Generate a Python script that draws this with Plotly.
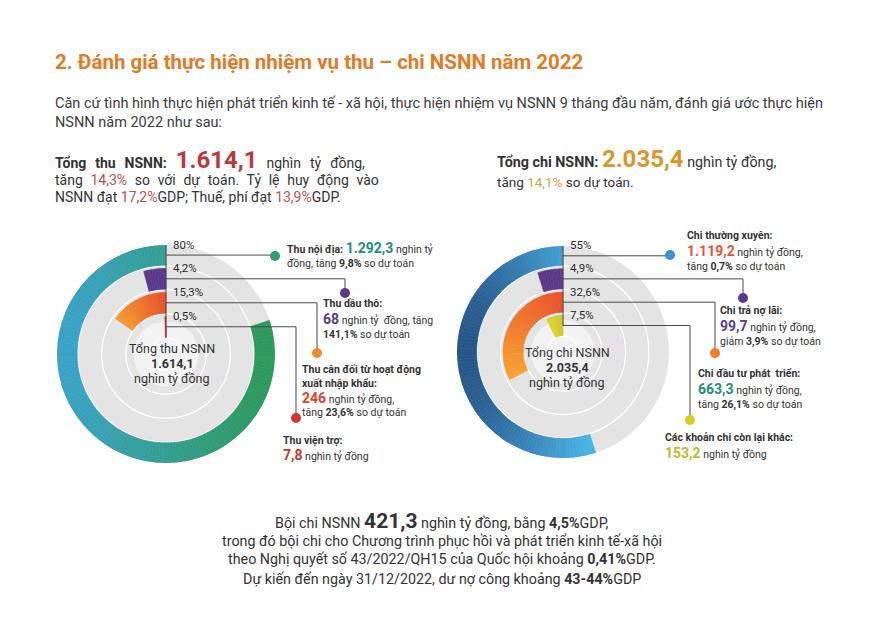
import math
import plotly.graph_objects as go

W, H = 883, 625
FONT = "Roboto, 'Open Sans', sans-serif"

# ---------------- data ----------------
rev_pct = [80, 4.2, 15.3, 0.5]
rev_pct_text = ["80%", "4,2%", "15,3%", "0,5%"]
rev_amount = ["1.292,3", "68", "246", "7,8"]
rev_total = "1.614,1"

exp_pct = [55, 4.9, 32.6, 7.5]
exp_pct_text = ["55%", "4,9%", "32,6%", "7,5%"]
exp_amount = ["1.119,2", "99,7", "663,3", "153,2"]
exp_total = "2.035,4"

# ---------------- style helpers ----------------
TRACKS = [(0.815, 1.0), (0.595, 0.785), (0.375, 0.565), (0.155, 0.345)]


def hex2rgb(h):
    h = h.lstrip("#")
    return tuple(int(h[i:i + 2], 16) for i in (0, 2, 4))


def lerp(c1, c2, t):
    t = max(0.0, min(1.0, t))
    a, b = hex2rgb(c1), hex2rgb(c2)
    return "rgb(%d,%d,%d)" % tuple(round(a[i] + (b[i] - a[i]) * t) for i in range(3))


def grad_x(c_left, c_right, lo=-1.0, hi=1.0):
    def f(theta, p):
        x = -math.sin(math.radians(theta))
        return lerp(c_left, c_right, (x - lo) / (hi - lo))
    return f


def grad_p(c0, c1):
    def f(theta, p):
        return lerp(c0, c1, p)
    return f


def const(c):
    return lambda theta, p: c


def ring_trace(pct, track, colfn, subplot):
    total = pct * 3.6
    n = max(1, int(math.ceil(total / 2.0)))
    step = total / n
    th, wd, rr, bs, cols = [], [], [], [], []
    for i in range(n):
        mid = step * (i + 0.5)
        th.append(mid)
        wd.append(step)
        rr.append(track[1] - track[0])
        bs.append(track[0])
        cols.append(colfn(mid, (i + 0.5) / n))
    return go.Barpolar(theta=th, width=wd, r=rr, base=bs,
                       marker=dict(color=cols, line=dict(color=cols, width=0.6)),
                       subplot=subplot, hoverinfo="skip", showlegend=False)


def halo_trace(subplot):
    return go.Barpolar(theta=[180], width=[360], r=[0.3], base=[0],
                       marker=dict(color="rgba(255,255,255,0.55)", line=dict(width=0)),
                       subplot=subplot, hoverinfo="skip", showlegend=False)


def polar_cfg(cx, cy, R):
    return dict(
        domain=dict(x=[(cx - R) / W, (cx + R) / W], y=[1 - (cy + R) / H, 1 - (cy - R) / H]),
        bgcolor="#e4e4e4",
        angularaxis=dict(direction="counterclockwise", rotation=90, showgrid=False,
                         showline=False, showticklabels=False, ticks=""),
        radialaxis=dict(range=[0, 1], showline=False, showticklabels=False, ticks="",
                        tickvals=[0.15, 0.37, 0.59, 0.81], gridcolor="white", gridwidth=1.2),
    )


LCX, LCY, LR = 166, 354, 109
RCX, RCY, RR = 563, 352, 106

rev_colors = [grad_x("#3aa3c6", "#2e9a5c"), const("#5a3a8c"),
              grad_p("#e6502a", "#f49a2f"), const("#c8372d")]
exp_colors = [grad_x("#27578a", "#4ab3e6", -1.0, 0.25), const("#5a3a8c"),
              grad_p("#e8522a", "#f7a331"), grad_p("#cfc62a", "#dcd634")]

fig = go.Figure()
fig.add_trace(halo_trace("polar"))
for v, tr, cf in zip(rev_pct, TRACKS, rev_colors):
    fig.add_trace(ring_trace(v, tr, cf, "polar"))
fig.add_trace(halo_trace("polar2"))
for v, tr, cf in zip(exp_pct, TRACKS, exp_colors):
    fig.add_trace(ring_trace(v, tr, cf, "polar2"))

shapes = []
annotations = []


def X(x):
    return x / W


def Y(y):
    return 1 - y / H


def line(x0, y0, x1, y1, color="#4a4a4a", width=1):
    shapes.append(dict(type="line", xref="paper", yref="paper", x0=X(x0), y0=Y(y0),
                       x1=X(x1), y1=Y(y1), line=dict(color=color, width=width), layer="above"))


def dot(x, y, color, r=5):
    shapes.append(dict(type="circle", xref="paper", yref="paper", x0=X(x - r), y0=Y(y - r),
                       x1=X(x + r), y1=Y(y + r), fillcolor=color, line=dict(width=0), layer="above"))


def text(x, y, s, size=11, color="#333333", xanchor="left", yanchor="middle", family=FONT):
    annotations.append(dict(x=X(x), y=Y(y), xref="paper", yref="paper", text=s, showarrow=False,
                            xanchor=xanchor, yanchor=yanchor, align=xanchor if xanchor != "center" else "center",
                            font=dict(size=size, color=color, family=family)))


def lines(x, y0, dy, items, size=10.5):
    for i, s in enumerate(items):
        text(x, y0 + i * dy, s, size=size)


def big(s, color, size=14):
    return "<b><span style='color:%s;font-size:%dpx'>%s</span></b>" % (color, size, s)


def ws(s, px):
    return "<span style='word-spacing:%.1fpx'>%s</span>" % (px, s)


def connectors(cx, cy, R, pct_text, dots, dot_colors):
    mids = [(a + b) / 2 for a, b in TRACKS]
    ly = [cy - m * R for m in mids]
    line(cx, cy - R, cx, ly[-1])
    for yy, t, (dx, dy_), c in zip(ly, pct_text, dots, dot_colors):
        line(cx, yy, dx, yy)
        if abs(dy_ - yy) > 1:
            line(dx, yy, dx, dy_)
        dot(dx, dy_, c)
        text(cx + 5, yy - 1.5, t, size=11.5, color="#2a2a2a", yanchor="bottom")
    return ly


# left chart connectors
connectors(LCX, LCY, LR, rev_pct_text,
           [(275, 256), (345, 293), (317, 353), (296, 418)],
           ["#2e9e72", "#5a3a8c", "#f08a2c", "#d0392b"])
line(LCX, LCY - 0.25 * LR, LCX, LCY - 0.15 * LR, color="#b03030", width=1.5)
# right chart connectors
connectors(RCX, RCY, RR, exp_pct_text,
           [(670, 255), (743, 298), (715, 353), (690, 420)],
           ["#3d8fd0", "#5a3a8c", "#ef7d2c", "#d6cf2a"])

# centre texts
text(172, 348, "Tổng thu NSNN", size=12.5, color="#333", xanchor="center")
text(172, 363, "<b>%s</b>" % rev_total, size=12.5, color="#333", xanchor="center")
text(172, 378, "nghìn tỷ đồng", size=12.5, color="#333", xanchor="center")
text(567, 352, "Tổng chi NSNN", size=12.5, color="#333", xanchor="center")
text(567, 367, "<b>%s</b>" % exp_total, size=12.5, color="#333", xanchor="center")
text(567, 382, "nghìn tỷ đồng", size=12.5, color="#333", xanchor="center")

# left labels
lines(285, 248, 15, ["<b>Thu nội địa:</b> " + big(rev_amount[0], "#1f8b7d") + " nghìn tỷ",
                     "đồng, tăng <b>9,8%</b> so dự toán"])
lines(321, 304, 15, ["<b>Thu dầu thô:</b>",
                     big(rev_amount[1], "#5a3a8c") + " nghìn tỷ  đồng, tăng",
                     "<b>141,1%</b> so dự toán"])
lines(300, 369, 14.5, ["<b>Thu cân đối từ hoạt động</b>", "<b>xuất nhập khẩu:</b>",
                       big(rev_amount[2], "#d9452b") + " nghìn tỷ đồng,",
                       "tăng <b>23,6%</b> so dự toán"])
lines(281, 440, 15, ["<b>Thu viện trợ:</b>", big(rev_amount[3], "#c0392b") + " nghìn tỷ đồng"])

# right labels
lines(685, 235, 15.5, ["<b>Chi thường xuyên:</b>", big(exp_amount[0], "#e5533a") + " nghìn tỷ đồng,",
                       "tăng <b>0,7%</b> so dự toán"])
lines(718, 310, 15.5, ["<b>Chi trả nợ lãi:</b>", big(exp_amount[1], "#5a3a8c") + " nghìn tỷ đồng,",
                       "giảm <b>3,9%</b> so dự toán"])
lines(696, 373, 15.5, ["<b>Chi đầu tư phát  triển:</b>", big(exp_amount[2], "#2a8a7a") + " nghìn tỷ đồng,",
                       "tăng <b>26,1%</b> so dự toán"])
lines(663, 437, 15.5, ["<b>Các khoản chi còn lại khác:</b>", big(exp_amount[3], "#c8b82a") + " nghìn tỷ đồng"])

# header
text(53, 62, "<b>2. Đánh giá thực hiện nhiệm vụ thu – chi NSNN năm 2022</b>", size=20.5, color="#e17b27")
text(53, 103, "Căn cứ tình hình thực hiện phát triển kinh tế - xã hội, thực hiện nhiệm vụ NSNN 9 tháng đầu năm, đánh giá ước thực hiện",
     size=14.5, color="#3c3c3c")
text(53, 123, "NSNN năm 2022 như sau:", size=14.5, color="#3c3c3c")

RED = "#c0504d"
text(53, 160, ws("<b>Tổng thu NSNN:</b> " + big(rev_total, "#b83a3a", 24) + " nghìn tỷ đồng,", 5.5),
     size=14, color="#333")
text(53, 180, ws("tăng <span style='color:%s'>14,3%%</span> so với dự toán. Tỷ lệ huy động vào" % RED, 4.2),
     size=14, color="#333")
text(53, 197, "NSNN đạt <span style='color:%s'>17,2%%</span>GDP; Thuế, phí đạt <span style='color:%s'>13,9%%</span>GDP." % (RED, RED),
     size=14, color="#333")

text(495, 159, "<b>Tổng chi NSNN:</b> " + big(exp_total, "#d9962a", 24) + " nghìn tỷ đồng,", size=14.3, color="#333")
text(495, 182, "tăng <span style='color:#d9a04a'>14,1%</span> so dự toán.", size=13.5, color="#333")

# footer
text(442, 521, "Bội chi NSNN " + big("421,3", "#333", 21) + " nghìn tỷ đồng, bằng <b>4,5%</b>GDP,",
     size=14.3, color="#333", xanchor="center")
text(442, 541, "trong đó bội chi cho Chương trình phục hồi và phát triển kinh tế-xã hội",
     size=14.3, color="#333", xanchor="center")
text(442, 559, "theo Nghị quyết số 43/2022/QH15 của Quốc hội khoảng <b>0,41%</b>GDP.",
     size=14.3, color="#333", xanchor="center")
text(442, 579, "Dự kiến đến ngày 31/12/2022, dư nợ công khoảng <b>43-44%</b>GDP",
     size=14.3, color="#333", xanchor="center")

fig.update_layout(
    width=W, height=H, margin=dict(l=0, r=0, t=0, b=0),
    paper_bgcolor="white", plot_bgcolor="white",
    polar=polar_cfg(LCX, LCY, LR), polar2=polar_cfg(RCX, RCY, RR),
    shapes=shapes, annotations=annotations, showlegend=False, hovermode=False,
    font=dict(family=FONT),
)
fig.write_html("out.html", config={"displayModeBar": False, "staticPlot": True},
               post_script="document.body.style.margin='0px';")
